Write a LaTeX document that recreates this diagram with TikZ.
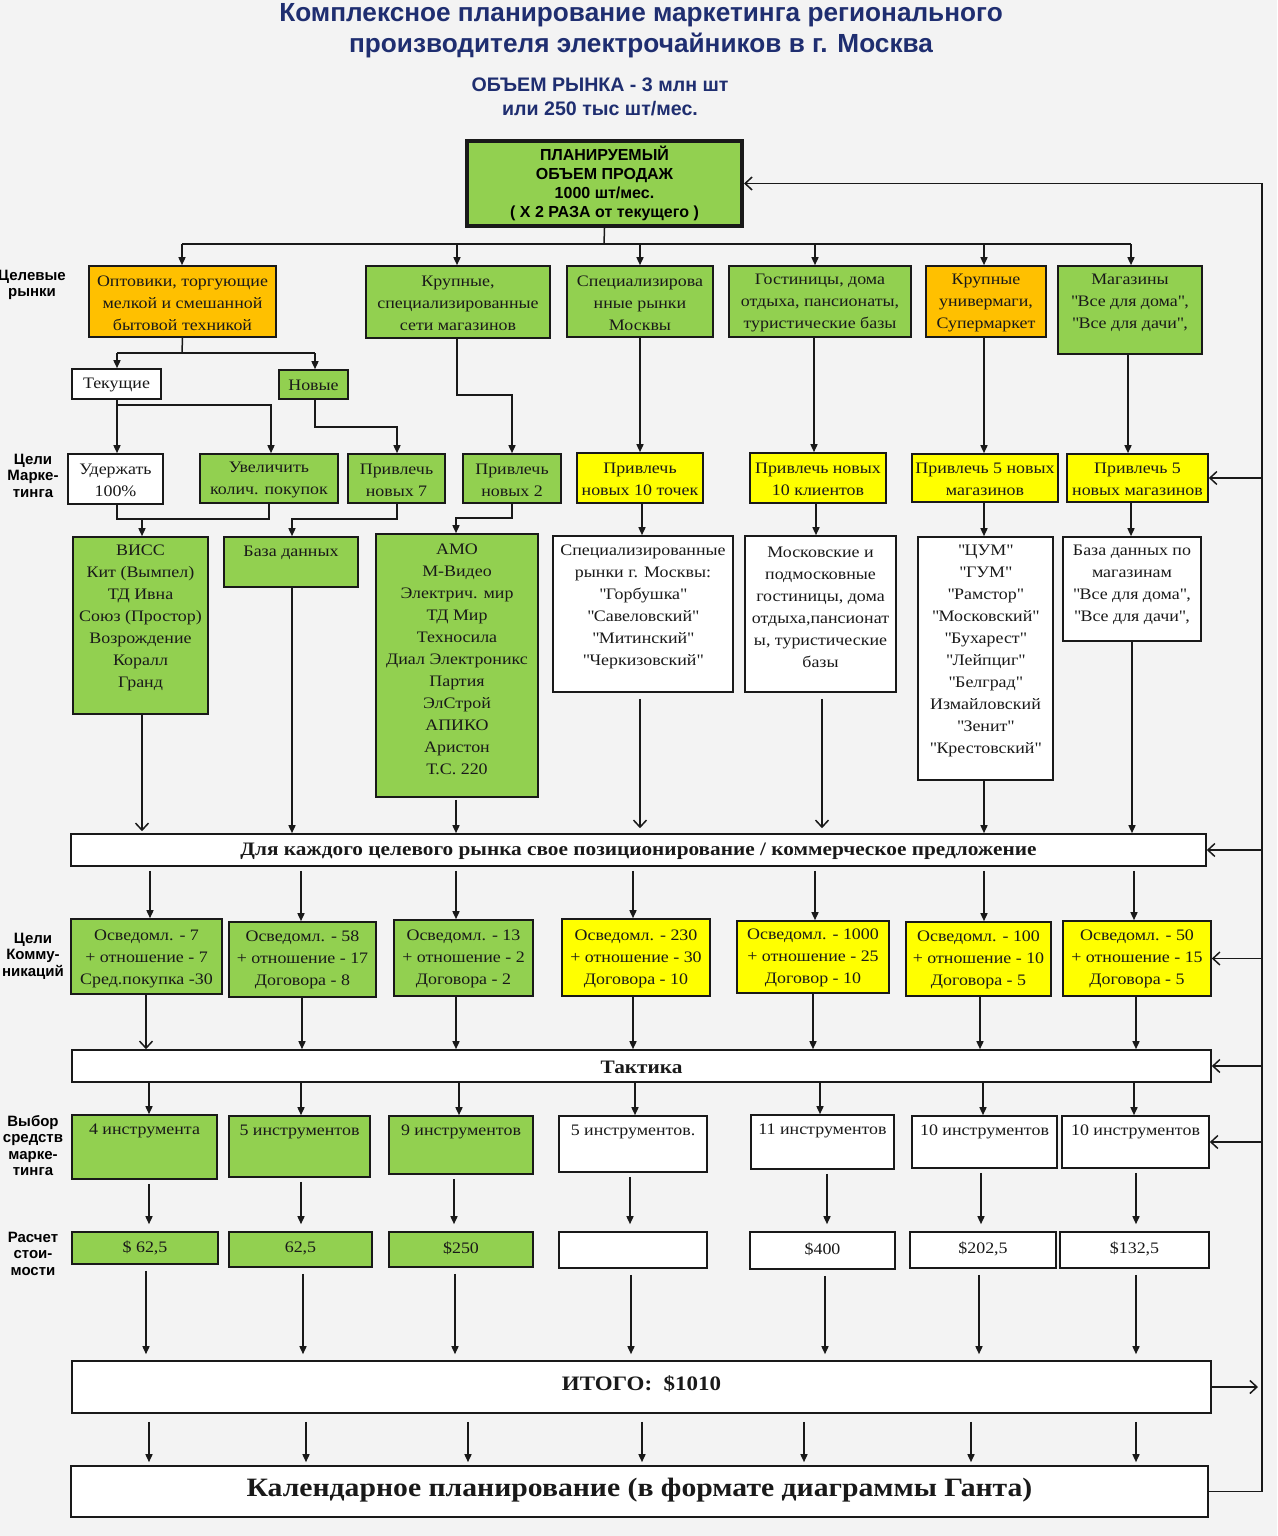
\documentclass[tikz,border=0pt]{standalone}
\usepackage{fontspec}
\setmainfont[FakeStretch=1.12]{Liberation Serif}
\newfontfamily\arialf{Liberation Sans}
\usetikzlibrary{arrows.meta}
\definecolor{grn}{RGB}{146,208,80}
\definecolor{org}{RGB}{255,192,0}
\definecolor{yel}{RGB}{255,255,0}
\definecolor{navy}{RGB}{31,46,112}
\definecolor{bg}{RGB}{243,243,243}
\definecolor{ink}{RGB}{25,25,25}
\newcommand\myq{\textquotedbl}
\newcommand\bx[8]{%
  \node[#2, minimum width={(#5-#3)*1pt}, minimum height={(#6-#4)*1pt}] (#1) at ({(#3+#5)/2},{(#4+#6)/2}) {};
  \node[txt] (#1t) at ({(#3+#5)/2},#7) {#8};
}
\begin{document}
\begin{tikzpicture}[x=1pt,y=-1pt,
  box/.style={draw=ink,line width=1.6pt,inner sep=0pt},
  gbox/.style={box,fill=grn}, obox/.style={box,fill=org},
  ybox/.style={box,fill=yel}, wbox/.style={box,fill=white},
  txt/.style={align=center,inner sep=0pt,text=ink,font=\fontsize{16}{22}\selectfont},
  lbl/.style={align=center,inner sep=0pt,text=black,font=\arialf\bfseries\fontsize{15}{16.5}\selectfont},
  ln/.style={draw=ink,line width=1.5pt},
  arr/.style={ln,-{Triangle[length=8pt,width=7pt]}},
  oarr/.style={ln,-{Straight Barb[length=7pt,width=13pt]}},
]
\fill[bg] (0,0) rectangle (1277,1536);
\useasboundingbox (0,0) rectangle (1277,1536);

% titles
\node[font=\arialf\bfseries\fontsize{26.2}{31}\selectfont,text=navy,align=center] (title) at (641,31)
  {Комплексное планирование маркетинга регионального\\производителя электрочайников в г. Москва};
\node[font=\arialf\bfseries\fontsize{19.6}{24}\selectfont,text=navy,align=center] (sub) at (600,97)
  {ОБЪЕМ РЫНКА - 3 млн шт\\или 250 тыс шт/мес.};

% top box
\node[gbox,line width=4pt,minimum width=275pt,minimum height=85pt] (T) at (604.5,183.5) {};
\node[align=center,inner sep=0pt,text=black,font=\arialf\bfseries\fontsize{16}{19}\selectfont] (Tt) at (604.5,183.5)
  {ПЛАНИРУЕМЫЙ\\ОБЪЕМ ПРОДАЖ\\1000 шт/мес.\\( X 2 РАЗА от текущего )};

% left labels
\node[lbl] (l1) at (32,285) {Целевые\\рынки};
\node[lbl] (l2) at (33,475.5) {Цели\\Марке-\\тинга};
\node[lbl] (l3) at (33,956) {Цели\\Комму-\\никаций};
\node[lbl] (l4) at (33,1145.5) {Выбор\\средств\\марке-\\тинга};
\node[lbl] (l5) at (33,1253.5) {Расчет\\стои-\\мости};

% target markets
\bx{b1}{obox}{89}{266}{276}{337}{303}{Оптовики, торгующие\\мелкой и смешанной\\бытовой техникой}
\bx{b2}{gbox}{366}{266}{550}{338}{303}{Крупные,\\специализированные\\сети магазинов}
\bx{b3}{gbox}{567}{266}{713}{337}{303}{Специализирова\\нные рынки\\Москвы}
\bx{b4}{gbox}{729}{266}{911}{337}{303}{Гостиницы, дома\\отдыха, пансионаты,\\туристические базы}
\bx{b5}{obox}{926}{266}{1046}{337}{303}{Крупные\\универмаги,\\Супермаркет}
\bx{b6}{gbox}{1058}{266}{1202}{354}{303}{Магазины\\\myq Все для дома\myq,\\\myq Все для дачи\myq,}

\bx{tek}{wbox}{72}{369}{161}{399}{385}{Текущие}
\bx{nov}{gbox}{279}{370}{348}{399}{385}{Новые}

% marketing goals
\bx{g1}{wbox}{68}{454}{163}{504}{480}{Удержать\\100\%}
\bx{g2}{gbox}{200}{454}{338}{503}{480}{Увеличить\\колич. покупок}
\bx{g3}{gbox}{348}{454}{445}{503}{480}{Привлечь\\новых 7}
\bx{g4}{gbox}{463}{454}{561}{503}{480}{Привлечь\\новых 2}
\bx{g5}{ybox}{577}{453}{703}{503}{479}{Привлечь\\новых 10 точек}
\bx{g6}{ybox}{750}{453}{886}{503}{479}{Привлечь новых\\10 клиентов}
\bx{g7}{ybox}{912}{454}{1058}{502}{479}{Привлечь 5 новых\\магазинов}
\bx{g8}{ybox}{1067}{454}{1208}{502}{479}{Привлечь 5\\новых магазинов}

% lists
\bx{L1}{gbox}{73}{537}{208}{714}{618}{ВИСС\\Кит (Вымпел)\\ТД Ивна\\Союз (Простор)\\Возрождение\\Коралл\\Гранд}
\bx{L2}{gbox}{224}{537}{358}{587}{553}{База данных}
\bx{L3}{gbox}{376}{534}{538}{797}{659}{АМО\\М-Видео\\Электрич. мир\\ТД Мир\\Техносила\\Диал Электроникс\\Партия\\ЭлСтрой\\АПИКО\\Аристон\\Т.С. 220}
\bx{L4}{wbox}{553}{536}{733}{692}{607}{Специализированные\\рынки г. Москвы:\\\myq Горбушка\myq\\\myq Савеловский\myq\\\myq Митинский\myq\\\myq Черкизовский\myq}
\bx{L5}{wbox}{745}{536}{896}{692}{607}{Московские и\\подмосковные\\гостиницы, дома\\отдыха,пансионат\\ы, туристические\\базы}
\bx{L6}{wbox}{918}{537}{1053}{780}{651}{\myq ЦУМ\myq\\\myq ГУМ\myq\\\myq Рамстор\myq\\\myq Московский\myq\\\myq Бухарест\myq\\\myq Лейпциг\myq\\\myq Белград\myq\\Измайловский\\\myq Зенит\myq\\\myq Крестовский\myq}
\bx{L7}{wbox}{1063}{537}{1201}{641}{585}{База данных по\\магазинам\\\myq Все для дома\myq,\\\myq Все для дачи\myq,}

% positioning bar
\bx{P}{wbox}{71}{834}{1206}{866}{851}{\bfseries\fontsize{19}{22}\selectfont Для каждого целевого рынка свое позиционирование / коммерческое предложение}

% communication goals
\bx{c1}{gbox}{71}{919}{222}{994}{959}{Осведомл. - 7\\+ отношение - 7\\Сред.покупка -30}
\bx{c2}{gbox}{229}{922}{376}{997}{960}{Осведомл. - 58\\+ отношение - 17\\Договора - 8}
\bx{c3}{gbox}{394}{920}{533}{996}{959}{Осведомл. - 13\\+ отношение - 2\\Договора - 2}
\bx{c4}{ybox}{562}{919}{710}{996}{959}{Осведомл. - 230\\+ отношение - 30\\Договора - 10}
\bx{c5}{ybox}{737}{921}{889}{993}{958}{Осведомл. - 1000\\+ отношение - 25\\Договор - 10}
\bx{c6}{ybox}{906}{922}{1051}{996}{960}{Осведомл. - 100\\+ отношение - 10\\Договора - 5}
\bx{c7}{ybox}{1063}{921}{1211}{996}{959}{Осведомл. - 50\\+ отношение - 15\\Договора - 5}

% tactics
\bx{K}{wbox}{72}{1050}{1211}{1082}{1067}{\bfseries\fontsize{19}{22}\selectfont Тактика}

% instruments
\bx{i1}{gbox}{72}{1115}{217}{1179}{1131}{4 инструмента}
\bx{i2}{gbox}{229}{1116}{370}{1177}{1132}{5 инструментов}
\bx{i3}{gbox}{389}{1116}{533}{1174}{1132}{9 инструментов}
\bx{i4}{wbox}{559}{1116}{707}{1172}{1132}{5 инструментов.}
\bx{i5}{wbox}{751}{1115}{894}{1169}{1131}{11 инструментов}
\bx{i6}{wbox}{912}{1116}{1057}{1168}{1132}{10 инструментов}
\bx{i7}{wbox}{1062}{1116}{1209}{1168}{1132}{10 инструментов}

% costs
\bx{k1}{gbox}{72}{1232}{218}{1264}{1248}{\$ 62,5}
\bx{k2}{gbox}{229}{1232}{372}{1267}{1248}{62,5}
\bx{k3}{gbox}{389}{1232}{533}{1267}{1248}{\$250}
\bx{k4}{wbox}{559}{1232}{707}{1268}{1249}{}
\bx{k5}{wbox}{750}{1232}{895}{1269}{1249}{\$400}
\bx{k6}{wbox}{910}{1232}{1056}{1268}{1249}{\$202,5}
\bx{k7}{wbox}{1060}{1232}{1209}{1268}{1249}{\$132,5}

% total and calendar
\bx{I}{wbox}{72}{1361}{1211}{1413}{1384}{\bfseries\fontsize{20.5}{26}\selectfont ИТОГО:\ \ \$1010}
\bx{C}{wbox}{71}{1466}{1208}{1517}{1490}{\bfseries\fontsize{26.5}{30}\selectfont Календарное планирование (в формате диаграммы Ганта)}

% ---- connectors ----
\coordinate (dj) at (604,244);
\draw[ln] (T.south) -- (dj);
\draw[ln] (182,244) -- (1131,244);
\foreach \n/\x in {b1/182,b2/457,b3/640,b4/815,b5/984,b6/1131}
  \draw[arr] (\x,244) -- (\n.north -| \x,0);

\draw[ln] (b1.south) -- (182,353);
\draw[ln] (117,353) -- (315,353);
\draw[arr] (117,353) -- (tek.north -| 117,0);
\draw[arr] (315,353) -- (nov.north -| 315,0);

\draw[arr] (tek.south -| 117,0) -- (g1.north -| 117,0);
\draw[arr] (117,405) -| (g2.north -| 271,0);
\draw[arr] (nov.south -| 315,0) -- (315,427) -| (g3.north -| 397,0);
\draw[arr] (b2.south -| 457,0) -- (457,395) -| (g4.north -| 512,0);
\draw[arr] (b3.south -| 640,0) -- (g5.north -| 640,0);
\draw[arr] (b4.south -| 814,0) -- (g6.north -| 814,0);
\draw[arr] (b5.south -| 984,0) -- (g7.north -| 984,0);
\draw[arr] (b6.south -| 1128,0) -- (g8.north -| 1128,0);

\draw[ln] (g1.south -| 117,0) |- (269,519) -- (g2.south -| 269,0);
\draw[arr] (142,519) -- (L1.north -| 142,0);
\draw[arr] (g3.south -| 397,0) |- (292,519) -- (L2.north -| 292,0);
\draw[arr] (g4.south -| 512,0) |- (456,518) -- (L3.north -| 456,0);
\draw[arr] (g5.south -| 642,0) -- (L4.north -| 642,0);
\draw[arr] (g6.south -| 816,0) -- (L5.north -| 816,0);
\draw[arr] (g7.south -| 984,0) -- (L6.north -| 984,0);
\draw[arr] (g8.south -| 1131,0) -- (L7.north -| 1131,0);

\draw[oarr,shorten >=2pt] (L1.south -| 142,0) -- (P.north -| 142,0);
\draw[arr] (L2.south -| 292,0) -- (P.north -| 292,0);
\draw[arr,shorten <=2pt] (L3.south -| 456,0) -- (P.north -| 456,0);
\draw[oarr,shorten <=6pt,shorten >=5pt] (L4.south -| 640,0) -- (P.north -| 640,0);
\draw[oarr,shorten <=6pt,shorten >=5pt] (L5.south -| 822,0) -- (P.north -| 822,0);
\draw[arr] (L6.south -| 984,0) -- (P.north -| 984,0);
\draw[arr] (L7.south -| 1132,0) -- (P.north -| 1132,0);

\foreach \n/\x in {c1/150,c2/301,c3/456,c4/633,c5/815,c6/984,c7/1134}
  \draw[arr,shorten <=4pt] (P.south -| \x,0) -- (\n.north -| \x,0);

\draw[oarr] (c1.south -| 146,0) -- (K.north -| 146,0);
\foreach \n/\x in {c2/302,c3/456,c4/633,c5/813,c6/980,c7/1136}
  \draw[arr] (\n.south -| \x,0) -- (K.north -| \x,0);

\foreach \n/\x in {i1/149,i2/301,i3/459,i4/635,i5/820,i6/983,i7/1134}
  \draw[arr] (K.south -| \x,0) -- (\n.north -| \x,0);

\foreach \a/\b/\x in {i1/k1/149,i2/k2/301,i3/k3/454,i4/k4/630,i5/k5/827,i6/k6/981,i7/k7/1136}
  \draw[arr,shorten <=4pt,shorten >=7pt] (\a.south -| \x,0) -- (\b.north -| \x,0);

\foreach \n/\x in {k1/146,k2/303,k3/455,k4/631,k5/825,k6/979,k7/1136}
  \draw[arr,shorten <=6pt,shorten >=6pt] (\n.south -| \x,0) -- (I.north -| \x,0);

\foreach \x in {149,306,468,642,804,971,1136}
  \draw[arr,shorten <=8pt,shorten >=3pt] (I.south -| \x,0) -- (C.north -| \x,0);

% feedback loop
\coordinate (fbB) at (1262,1491.5);
\coordinate (fbT) at (1262,183.5);
\draw[oarr] (C.east) -- (fbB) -- (fbT) -- (T.east);
\foreach \n in {g8,P,c7,K,i7}
  \draw[oarr] (\n.east -| 1262,0) -- (\n.east);
\coordinate (tot) at (1258,1387);
\draw[oarr] (I.east) -- (tot);
\end{tikzpicture}
\end{document}
